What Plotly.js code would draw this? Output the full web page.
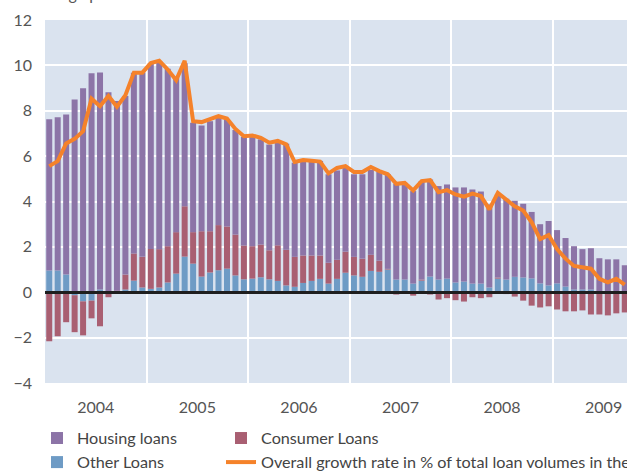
<!DOCTYPE html>
<html><head><meta charset="utf-8">
<script src="https://cdn.plot.ly/plotly-3.0.1.min.js"></script>
<style>html,body{margin:0;padding:0;overflow:hidden;background:#fff}</style>
</head><body><div id="chart"></div>
<script>
// Monthly data, Jan 2004 .. Sep 2009 (percentage points)
const yearLabels = ['2004','2005','2006','2007','2008','2009'];

const housing = [6.66,6.75,7.06,8.50,8.99,9.65,9.57,8.79,8.36,7.87,
  7.97,8.12,8.19,8.28,7.82,6.81,6.30,4.82,4.66,4.85,
  4.73,4.72,4.61,4.79,4.82,4.64,4.66,4.60,4.68,4.15,
  4.12,4.20,4.17,3.90,3.94,3.70,3.64,3.72,3.74,3.91,
  4.17,4.22,4.26,4.08,4.34,4.28,4.12,4.15,4.19,4.15,
  4.15,4.06,3.66,3.66,3.56,3.35,3.25,2.93,2.61,2.84,
  2.35,2.14,1.91,1.78,1.82,1.50,1.43,1.43,1.19];

const consumer = [-2.16,-1.94,-1.32,-1.63,-1.50,-0.78,-1.50,-0.22,0.02,0.66,
  1.20,1.35,1.76,1.69,1.60,1.83,2.22,1.39,2.00,1.82,
  1.99,1.86,1.80,1.49,1.43,1.44,1.28,1.57,1.57,1.32,
  1.21,1.12,1.03,0.92,0.84,0.93,0.82,0.80,0.71,0.49,
  0.03,-0.10,-0.02,-0.15,0.05,-0.10,-0.32,-0.26,-0.35,-0.41,
  -0.22,-0.26,-0.22,0.05,-0.08,-0.19,-0.37,-0.59,-0.67,-0.62,
  -0.76,-0.84,-0.84,-0.80,-0.98,-0.98,-1.02,-0.93,-0.89];

const other = [0.96,0.96,0.78,-0.13,-0.40,-0.37,0.12,0.02,0.05,0.12,
  0.51,0.21,0.15,0.21,0.43,0.82,1.57,1.26,0.69,0.87,
  0.97,1.04,0.74,0.57,0.60,0.66,0.57,0.50,0.30,0.24,
  0.41,0.50,0.59,0.38,0.59,0.86,0.74,0.68,0.94,0.90,
  1.00,0.56,0.56,0.38,0.51,0.69,0.56,0.60,0.43,0.47,
  0.38,0.38,0.21,0.60,0.56,0.68,0.65,0.61,0.39,0.30,
  0.39,0.25,0.12,0.12,0.12,0.00,0.02,0.02,0.00];

const overall = [5.56,5.78,6.56,6.76,7.10,8.53,8.20,8.65,8.18,8.68,
  9.68,9.68,10.10,10.20,9.82,9.35,10.20,7.54,7.50,7.65,
  7.76,7.66,7.20,6.88,6.91,6.81,6.59,6.67,6.52,5.74,
  5.83,5.80,5.76,5.24,5.48,5.56,5.30,5.30,5.52,5.34,
  5.20,4.78,4.82,4.49,4.90,4.94,4.41,4.50,4.31,4.21,
  4.35,4.24,3.65,4.38,4.09,3.79,3.60,3.08,2.34,2.52,
  1.90,1.48,1.16,1.11,1.04,0.59,0.44,0.59,0.34];

const monthIdx = housing.map((_, i) => i);
const yearTickPos = yearLabels.map((_, i) => 5.5 + 12 * i);

const FONT = 'Lato, "Open Sans", sans-serif';
const traces = [
  {type:'bar', name:'Other Loans', x:monthIdx, y:other, marker:{color:'#6e9bc5', line:{width:0}}, legend:'legend', legendrank:2},
  {type:'bar', name:'Consumer Loans', x:monthIdx, y:consumer, marker:{color:'#a95f72', line:{width:0}}, legend:'legend2', legendrank:1},
  {type:'bar', name:'Housing loans', x:monthIdx, y:housing, marker:{color:'#8c74a7', line:{width:0}}, legend:'legend', legendrank:1},
  {type:'scatter', mode:'lines', name:'Overall growth rate in % of total loan volumes in the previous year', x:monthIdx, y:overall,
   line:{color:'#f5822a', width:4}, legend:'legend2', legendrank:2}
];

const W = 800, PLOT_W = 584;
const legendCommon = {yref:'container', y:(471-421)/471, xanchor:'left', yanchor:'top', xref:'paper',
  orientation:'v', traceorder:'normal', bgcolor:'rgba(0,0,0,0)', font:{size:16.2, color:'#444'}, tracegroupgap:0, itemwidth:30};

const layout = {
  width:W, height:471,
  margin:{l:45, r:W-45-PLOT_W, t:20, b:88},
  paper_bgcolor:'#ffffff', plot_bgcolor:'#dae3ef',
  font:{family:FONT, size:16, color:'#555'},
  barmode:'relative', bargap:0.29,
  showlegend:true,
  xaxis:{range:[-0.5, 68.5], tickmode:'array', tickvals:yearTickPos, ticktext:yearLabels,
    showgrid:false, zeroline:false, ticks:'', showline:false, ticklabelstandoff:13, fixedrange:true,
    minor:{tickmode:'linear', tick0:11.5, dtick:12, showgrid:true, gridcolor:'#ffffff', gridwidth:2, ticks:''}},
  yaxis:{range:[-4,12], tickmode:'linear', tick0:0, dtick:2, showgrid:true, gridcolor:'#ffffff', gridwidth:2,
    zeroline:true, zerolinecolor:'#1e1e1e', zerolinewidth:2.5, zerolinelayer:'above traces',
    ticks:'', showline:false, ticklabelstandoff:12, fixedrange:true},
  legend:Object.assign({}, legendCommon, {x:(37-45)/PLOT_W}),
  legend2:Object.assign({}, legendCommon, {x:(221-45)/PLOT_W}),
  annotations:[{xref:'paper', yref:'paper', x:-40/PLOT_W, y:1+15/363, xanchor:'left', yanchor:'bottom',
    text:'Percentage points', showarrow:false, font:{size:16, color:'#555'}}]
};

Plotly.newPlot('chart', traces, layout, {displayModeBar:false, staticPlot:true});
</script>
</body></html>
